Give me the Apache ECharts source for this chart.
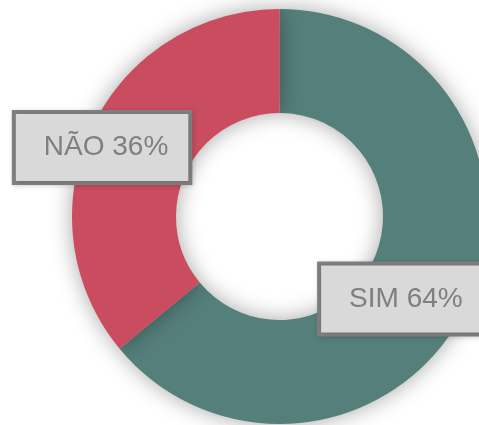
<!DOCTYPE html>
<html>
<head>
<meta charset="utf-8">
<script src="https://cdn.jsdelivr.net/npm/echarts@6/dist/echarts.min.js"></script>
<style>
  html, body { margin: 0; padding: 0; background: #fff; }
  #chart { width: 479px; height: 425px; }
</style>
</head>
<body>
<div id="chart"></div>
<script>
// data
const categories = ['SIM', 'NÃO']
const values = [64, 36]
const colors = ['#557f7b', '#c94d5f']
// label nudges from the ring's middle (px)
const labelShift = [[-21, 15], [-34, -1.5]]

const chart = echarts.init(document.getElementById('chart'))

const option = {
  animation: false,
  series: [{
    type: 'pie',
    center: [279.5, 216.5],
    radius: [103.5, 207.5],
    startAngle: 90,
    clockwise: true,
    silent: true,
    itemStyle: {
      shadowBlur: 22,
      shadowColor: 'rgba(0,0,0,0.35)'
    },
    label: {
      show: true,
      position: 'inside',
      rotate: 0,
      formatter: p => p.name + ' ' + p.value + '%',
      fontFamily: '"Liberation Sans", Arial, sans-serif',
      fontSize: 28,
      lineHeight: 28,
      color: '#7f7f7f',
      backgroundColor: '#d9d9d9',
      borderColor: '#7f7f7f',
      borderWidth: 4,
      padding: [20, 20, 19, 28],
      shadowBlur: 5,
      shadowColor: 'rgba(0,0,0,0.18)',
      shadowOffsetX: 1,
      shadowOffsetY: 1
    },
    labelLine: { show: false },
    labelLayout: function (params) {
      const s = labelShift[params.dataIndex]
      return { dx: s[0], dy: s[1] }
    },
    data: categories.map((c, i) => ({
      name: c,
      value: values[i],
      itemStyle: { color: colors[i] }
    }))
  }]
}

chart.setOption(option)
</script>
</body>
</html>
